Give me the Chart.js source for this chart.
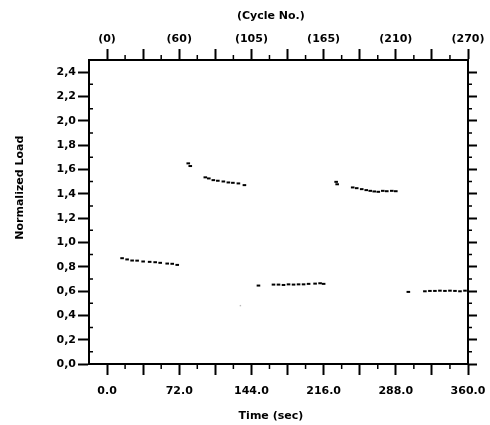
<!DOCTYPE html>
<html>
<head>
<meta charset="utf-8">
<script src="https://cdn.jsdelivr.net/npm/chart.js@4.4.1/dist/chart.umd.min.js"></script>
<style>
    html, body { margin: 0; padding: 0; background: #fff; }
</style>
</head>
<body>
<canvas id="load-graph" width="490" height="425"></canvas>
<script>
const times = [
    15, 20, 25, 30, 36, 42.5, 48, 53, 60, 65, 70,
    81, 83, 98, 101.5, 106, 110.5, 116, 121, 125.5, 131, 137,
    151, 166, 171, 176, 181, 186, 191, 196, 201, 207.5, 212.5, 216,
    228.5, 229.5, 245, 249, 254, 258.5, 262.5, 266.5, 270.5, 275, 279, 284, 288,
    300.5, 317, 322, 327, 332, 337, 342, 347, 352, 357
];
const loads = [
    0.870, 0.860, 0.851, 0.850, 0.843, 0.840, 0.837, 0.832, 0.826, 0.824, 0.815,
    1.650, 1.628, 1.535, 1.526, 1.512, 1.507, 1.501, 1.493, 1.490, 1.485, 1.471,
    0.645, 0.653, 0.653, 0.650, 0.655, 0.653, 0.655, 0.655, 0.659, 0.661, 0.664, 0.659,
    1.498, 1.478, 1.452, 1.446, 1.438, 1.430, 1.424, 1.419, 1.416, 1.424, 1.421, 1.424, 1.421,
    0.593, 0.598, 0.601, 0.601, 0.603, 0.601, 0.603, 0.601, 0.598, 0.603
];
// faint stray dot
const strayTimes = [133];
const strayLoads = [0.48];

const xLabels = [0, 72, 144, 216, 288, 360];
const cycleLabels = ['(0)', '(60)', '(105)', '(165)', '(210)', '(270)'];
const yTicks = [0, 0.2, 0.4, 0.6, 0.8, 1.0, 1.2, 1.4, 1.6, 1.8, 2.0, 2.2, 2.4];

let xMajor = [], xMinor = [], yMinor = [];
for (let v = 0; v <= 360; v += 36) xMajor.push(v);
for (let v = 18; v < 360; v += 36) xMinor.push(v);
for (let i = 1; i < 25; i += 2) yMinor.push(i / 10);

const tickFont = { family: 'DejaVu Sans', weight: 'bold', size: 11 };

// short tick marks between the labelled ones + the three axis titles
const extras = {
    id: 'extras',
    afterDraw(chart) {
        const { ctx, chartArea: a, scales } = chart;
        ctx.save();
        ctx.strokeStyle = '#000';
        ctx.lineWidth = 1.5;
        ctx.beginPath();
        xMinor.forEach(v => {
            let px = scales.x.getPixelForValue(v);
            ctx.moveTo(px, a.bottom); ctx.lineTo(px, a.bottom + 5);
            ctx.moveTo(px, a.top); ctx.lineTo(px, a.top - 5);
        });
        yMinor.forEach(v => {
            let py = scales.y.getPixelForValue(v);
            ctx.moveTo(a.left, py); ctx.lineTo(a.left + 4, py);
            ctx.moveTo(a.right, py); ctx.lineTo(a.right + 4, py);
        });
        ctx.stroke();

        ctx.fillStyle = '#000';
        ctx.font = 'bold 11px "DejaVu Sans"';
        ctx.textAlign = 'center';
        ctx.textBaseline = 'middle';
        let cx = a.left + (a.right - a.left) * 0.48;
        ctx.fillText('(Cycle No.)', cx, 16);
        ctx.fillText('Time (sec)', cx, 416);
        ctx.translate(20, a.top + (a.bottom - a.top) * 0.42);
        ctx.rotate(-Math.PI / 2);
        ctx.fillText('Normalized Load', 0, 0);
        ctx.restore();
    }
};

const frame = { color: '#000', width: 2 };
const gridOpts = { drawOnChartArea: false, drawTicks: true, tickLength: 11, tickColor: '#000', tickWidth: 2 };

// fixed box sizes so the frame lands where it does in the original
const fixHeight = h => s => { s.height = h; s.paddingLeft = 0; s.paddingRight = 0; };

new Chart(document.getElementById('load-graph'), {
    type: 'scatter',
    data: {
        datasets: [
            {
                data: times.map((t, i) => ({ x: t, y: loads[i] })),
                pointStyle: 'line',
                pointRadius: 1.8,
                borderColor: '#000',
                borderWidth: 2
            },
            {
                data: strayTimes.map((t, i) => ({ x: t, y: strayLoads[i] })),
                pointStyle: 'rect',
                pointRadius: 1,
                backgroundColor: '#bbb',
                borderWidth: 0
            }
        ]
    },
    options: {
        responsive: false,
        animation: false,
        plugins: { legend: { display: false }, tooltip: { enabled: false } },
        layout: { padding: 0 },
        scales: {
            x: {
                type: 'linear', position: 'bottom', min: -18, max: 360,
                afterBuildTicks: s => { s.ticks = xMajor.map(v => ({ value: v })); },
                ticks: {
                    callback: v => xLabels.includes(v) ? v.toFixed(1) : '',
                    font: tickFont, color: '#000', padding: 10, maxRotation: 0, autoSkip: false
                },
                grid: gridOpts,
                border: frame,
                afterFit: fixHeight(61)
            },
            x2: {
                type: 'linear', position: 'top', min: -18, max: 360,
                afterBuildTicks: s => { s.ticks = xMajor.map(v => ({ value: v })); },
                ticks: {
                    callback: v => xLabels.includes(v) ? cycleLabels[xLabels.indexOf(v)] : '',
                    font: tickFont, color: '#000', padding: 3, maxRotation: 0, autoSkip: false
                },
                grid: gridOpts,
                border: frame,
                afterFit: fixHeight(60)
            },
            y: {
                type: 'linear', position: 'left', min: 0, max: 2.5,
                afterBuildTicks: s => { s.ticks = yTicks.map(v => ({ value: v })); },
                ticks: {
                    callback: v => v.toFixed(1).replace('.', ','),
                    font: tickFont, color: '#000', padding: 2, autoSkip: false
                },
                grid: gridOpts,
                border: frame,
                afterFit: s => { s.width = 89; }
            },
            y2: {
                type: 'linear', position: 'right', min: 0, max: 2.5,
                afterBuildTicks: s => { s.ticks = yTicks.map(v => ({ value: v })); },
                ticks: { callback: () => '', font: tickFont, autoSkip: false },
                grid: Object.assign({}, gridOpts, { tickLength: 9 }),
                border: frame,
                afterFit: s => { s.width = 22; }
            }
        }
    },
    plugins: [extras]
});
</script>
</body>
</html>
